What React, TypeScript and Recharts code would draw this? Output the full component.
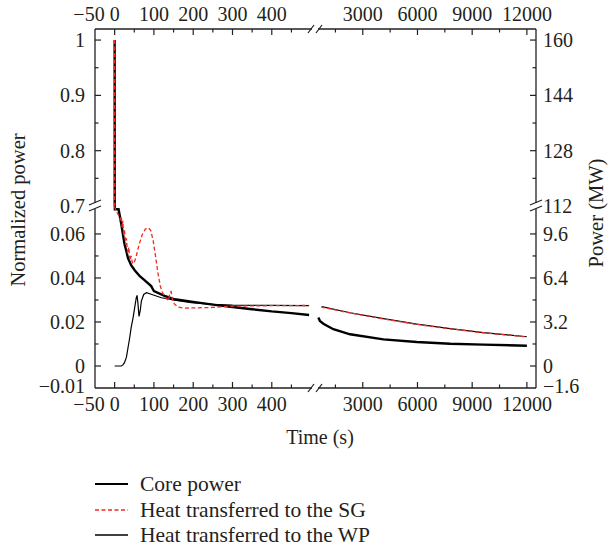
// reactor transient: normalized power with broken axes

import React from 'react';
import { LineChart, Line, XAxis, YAxis } from 'recharts';

// time (s) / normalized power
const coreEarlyTime = [0, 0.5, 10, 17, 21, 25, 30, 34, 42, 51, 64, 76, 93, 97, 100, 127, 153, 204, 250, 300, 350, 400, 450, 495];
const coreEarlyPower = [1.0, 0.0712, 0.0712, 0.0644, 0.06, 0.0555, 0.052, 0.049, 0.0458, 0.0435, 0.0408, 0.039, 0.0363, 0.035, 0.034, 0.0319, 0.0303, 0.029, 0.0279, 0.0268, 0.0258, 0.0248, 0.024, 0.0232];
const coreLateTime = [563, 650, 838, 1387, 2303, 4131, 5963, 7791, 9618, 12000];
const coreLatePower = [0.022, 0.0205, 0.0192, 0.0167, 0.0144, 0.0121, 0.0109, 0.0101, 0.0097, 0.0092];

const sgEarlyTime = [0, 0.5, 5, 10, 14, 17, 19, 21, 23, 25, 28, 30, 33, 36, 39, 42, 45, 49, 55, 62, 70, 78, 86, 92, 98, 104, 110, 116, 122, 130, 137, 141, 144, 147, 152, 161, 175, 200, 250, 300, 400, 495];
const sgEarlyHeat = [1.0, 0.072, 0.07, 0.0685, 0.0665, 0.068, 0.063, 0.066, 0.059, 0.062, 0.055, 0.058, 0.051, 0.054, 0.048, 0.05, 0.047, 0.0465, 0.05, 0.055, 0.0595, 0.0622, 0.0628, 0.0615, 0.057, 0.05, 0.0425, 0.0365, 0.0332, 0.031, 0.0298, 0.0335, 0.0338, 0.03, 0.0282, 0.0268, 0.0263, 0.0264, 0.0266, 0.0272, 0.0274, 0.0275];
const sgLateTime = [720, 2303, 4131, 5963, 7791, 9618, 12000];
const sgLateHeat = [0.0268, 0.0241, 0.0214, 0.0189, 0.0169, 0.0151, 0.0132];

const wpEarlyTime = [0, 17, 21, 25, 30, 34, 38, 42, 47, 51, 55, 57, 59, 62, 65, 68, 74, 81, 93, 119, 153, 195, 250, 300, 400, 495];
const wpEarlyHeat = [0, 0, 0.0005, 0.0015, 0.004, 0.0083, 0.0125, 0.0174, 0.022, 0.0265, 0.031, 0.0321, 0.029, 0.0225, 0.025, 0.0295, 0.0325, 0.0333, 0.0326, 0.031, 0.0299, 0.0288, 0.028, 0.0277, 0.0275, 0.0274];
const wpLateTime = [750, 2303, 4131, 5963, 7791, 9618, 12000];
const wpLateHeat = [0.027, 0.0242, 0.0215, 0.019, 0.017, 0.0152, 0.0133];

// axis ticks
const leftTicksX = [-50, 0, 50, 100, 150, 200, 250, 300, 350, 400, 450];
const leftLabelsX = [-50, 0, 100, 200, 300, 400];
const rightTicksX = [1500, 3000, 4500, 6000, 7500, 9000, 10500, 12000];
const rightLabelsX = [3000, 6000, 9000, 12000];
const topTicksY = [0.7, 0.75, 0.8, 0.85, 0.9, 0.95, 1];
const topLabelsY = [0.7, 0.8, 0.9, 1];
const bottomTicksY = [-0.01, 0, 0.01, 0.02, 0.03, 0.04, 0.05, 0.06];
const bottomLabelsY = [-0.01, 0, 0.02, 0.04, 0.06];

const leftDomainX = [-50, 510];
const rightDomainX = [380, 12500];
const topDomainY = [0.7, 1.02];
const bottomDomainY = [-0.01, 0.0727];

const zip = (ts: number[], vs: number[]) => ts.map((t, i) => ({ t, v: vs[i] }));

const early = {
  core: zip(coreEarlyTime, coreEarlyPower),
  sg: zip(sgEarlyTime, sgEarlyHeat),
  wp: zip(wpEarlyTime, wpEarlyHeat),
};
const late = {
  core: zip(coreLateTime, coreLatePower),
  sg: zip(sgLateTime, sgLateHeat),
  wp: zip(wpLateTime, wpLateHeat),
};

const FONT = '"Liberation Serif", "Times New Roman", serif';
const INK = '#231f20';
const RED = '#ee2a24';

const near = (list: number[], v: number) => list.some((a) => Math.abs(a - v) < 1e-9);
const fmt = (v: number) => String(v).replace('-', '\u2212');
const mw = (v: number) => fmt(Number((v * 160).toFixed(1)));

const xTick = (side: 'top' | 'bottom', labels: number[], edge: number) => (p: any) => {
  const { x, y, payload } = p;
  const v = payload.value;
  const major = near(labels, v);
  const len = major ? 6 : 3.5;
  const dir = side === 'bottom' ? -1 : 1;
  return (
    <g>
      {v !== edge && <line x1={x} y1={y} x2={x} y2={y + dir * len} stroke={INK} strokeWidth={1.2} />}
      {major && (
        <text x={v < 0 ? x - 6 : x} y={side === 'bottom' ? y + 23 : y - 8} textAnchor="middle"
          fontFamily={FONT} fontSize={20} fill={INK}>{fmt(v)}</text>
      )}
    </g>
  );
};

const yTick = (side: 'left' | 'right', labels: number[], edge: number) => (p: any) => {
  const { x, y, payload } = p;
  const v = payload.value;
  const major = near(labels, v);
  const len = major ? 6 : 3.5;
  const dir = side === 'left' ? 1 : -1;
  const atEdge = Math.abs(v - edge) < 1e-9;
  return (
    <g>
      {!atEdge && <line x1={x} y1={y} x2={x + dir * len} y2={y} stroke={INK} strokeWidth={1.2} />}
      {major && (
        <text x={side === 'left' ? x - 10 : x + 7} y={atEdge && v < 0 ? y - 2 : y} textAnchor={side === 'left' ? 'end' : 'start'}
          dominantBaseline="central" fontFamily={FONT} fontSize={20} fill={INK}>
          {side === 'left' ? fmt(v) : mw(v)}
        </text>
      )}
    </g>
  );
};

type PanelProps = {
  left: number; top: number; width: number; height: number;
  margin: { top: number; bottom: number };
  xSide: 'top' | 'bottom'; ySide: 'left' | 'right';
  xDomain: number[]; xTicks: number[]; xLabels: number[];
  yDomain: number[]; yTicks: number[]; yLabels: number[];
  data: typeof early;
};

const Panel = (p: PanelProps) => (
  <div style={{ position: 'absolute', left: p.left, top: p.top }}>
    <LineChart width={p.width} height={p.height} margin={{ left: 0, right: 0, top: p.margin.top, bottom: p.margin.bottom }}>
      <XAxis xAxisId="x" type="number" dataKey="t" orientation={p.xSide} domain={p.xDomain} allowDataOverflow
        ticks={p.xTicks} interval={0} tickSize={0} tickMargin={0} height={p.xSide === 'top' ? 29 : 48}
        axisLine={{ stroke: INK, strokeWidth: 1.3 }} tickLine={false} tick={xTick(p.xSide, p.xLabels, p.xDomain[0])} />
      <YAxis yAxisId="y" type="number" orientation={p.ySide} domain={p.yDomain} allowDataOverflow
        ticks={p.yTicks} interval={0} tickSize={0} tickMargin={0} width={p.ySide === 'left' ? 95 : 75}
        axisLine={{ stroke: INK, strokeWidth: 1.3 }} tickLine={false} tick={yTick(p.ySide, p.yLabels, p.yDomain[0])} />
      <Line xAxisId="x" yAxisId="y" data={p.data.core} dataKey="v" type="linear" stroke="#000"
        strokeWidth={2.4} dot={false} isAnimationActive={false} />
      <Line xAxisId="x" yAxisId="y" data={p.data.wp} dataKey="v" type="linear" stroke="#000"
        strokeWidth={1.2} dot={false} isAnimationActive={false} />
      <Line xAxisId="x" yAxisId="y" data={p.data.sg} dataKey="v" type="linear" stroke={RED}
        strokeWidth={1.3} strokeDasharray="4 2.5" dot={false} isAnimationActive={false} />
    </LineChart>
  </div>
);

const BreakH = ({ x, y }: { x: number; y: number }) => (
  <g>
    <rect x={x - 3} y={y - 3} width={6} height={6} fill="#fff" />
    <line x1={x - 7} y1={y + 4} x2={x - 1} y2={y - 4} stroke={INK} strokeWidth={1.2} />
    <line x1={x + 1} y1={y + 4} x2={x + 7} y2={y - 4} stroke={INK} strokeWidth={1.2} />
  </g>
);

const BreakV = ({ x, y }: { x: number; y: number }) => (
  <g>
    <rect x={x - 3} y={y - 3} width={6} height={6} fill="#fff" />
    <line x1={x - 6} y1={y - 1} x2={x + 6} y2={y - 6} stroke={INK} strokeWidth={1.2} />
    <line x1={x - 6} y1={y + 5} x2={x + 6} y2={y} stroke={INK} strokeWidth={1.2} />
  </g>
);

const LEGEND_SIZE = 21.5;

const App = () => (
  <div style={{ position: 'absolute', left: 0, top: 0, width: 611, height: 552, background: '#fff' }}>
    <Panel left={0} top={0} width={315} height={230} margin={{ top: 0, bottom: 24 }} xSide="top" ySide="left"
      xDomain={leftDomainX} xTicks={leftTicksX} xLabels={leftLabelsX}
      yDomain={topDomainY} yTicks={topTicksY} yLabels={topLabelsY} data={early} />
    <Panel left={315} top={0} width={296} height={230} margin={{ top: 0, bottom: 24 }} xSide="top" ySide="right"
      xDomain={rightDomainX} xTicks={rightTicksX} xLabels={rightLabelsX}
      yDomain={topDomainY} yTicks={topTicksY} yLabels={topLabelsY} data={late} />
    <Panel left={0} top={206} width={315} height={230} margin={{ top: 0, bottom: 0 }} xSide="bottom" ySide="left"
      xDomain={leftDomainX} xTicks={leftTicksX} xLabels={leftLabelsX}
      yDomain={bottomDomainY} yTicks={bottomTicksY} yLabels={bottomLabelsY} data={early} />
    <Panel left={315} top={206} width={296} height={230} margin={{ top: 0, bottom: 0 }} xSide="bottom" ySide="right"
      xDomain={rightDomainX} xTicks={rightTicksX} xLabels={rightLabelsX}
      yDomain={bottomDomainY} yTicks={bottomTicksY} yLabels={bottomLabelsY} data={late} />
    <svg width={611} height={552} style={{ position: 'absolute', left: 0, top: 0, pointerEvents: 'none' }}>
      <BreakH x={315} y={29} />
      <BreakH x={315} y={388} />
      <BreakV x={95} y={206} />
      <BreakV x={536} y={206} />
      <text transform="translate(18,210) rotate(-90)" textAnchor="middle" dominantBaseline="central"
        fontFamily={FONT} fontSize={20.5} fill={INK}>Normalized power</text>
      <text transform="translate(596,213) rotate(-90)" textAnchor="middle" dominantBaseline="central"
        fontFamily={FONT} fontSize={20.5} fill={INK}>Power (MW)</text>
      <text x={320} y={437} textAnchor="middle" dominantBaseline="central" fontFamily={FONT} fontSize={20} fill={INK}>Time (s)</text>
      <line x1={95} y1={484} x2={128} y2={484} stroke="#000" strokeWidth={2.2} />
      <text x={140} y={484} dominantBaseline="central" fontFamily={FONT} fontSize={LEGEND_SIZE} fill={INK}>Core power</text>
      <line x1={95} y1={510} x2={128} y2={510} stroke={RED} strokeWidth={1.3} strokeDasharray="4 2.5" />
      <text x={140} y={510} dominantBaseline="central" fontFamily={FONT} fontSize={LEGEND_SIZE} fill={INK}>Heat transferred to the SG</text>
      <line x1={95} y1={535} x2={128} y2={535} stroke="#000" strokeWidth={1.3} />
      <text x={140} y={535} dominantBaseline="central" fontFamily={FONT} fontSize={LEGEND_SIZE} fill={INK}>Heat transferred to the WP</text>
    </svg>
  </div>
);

export default App;
